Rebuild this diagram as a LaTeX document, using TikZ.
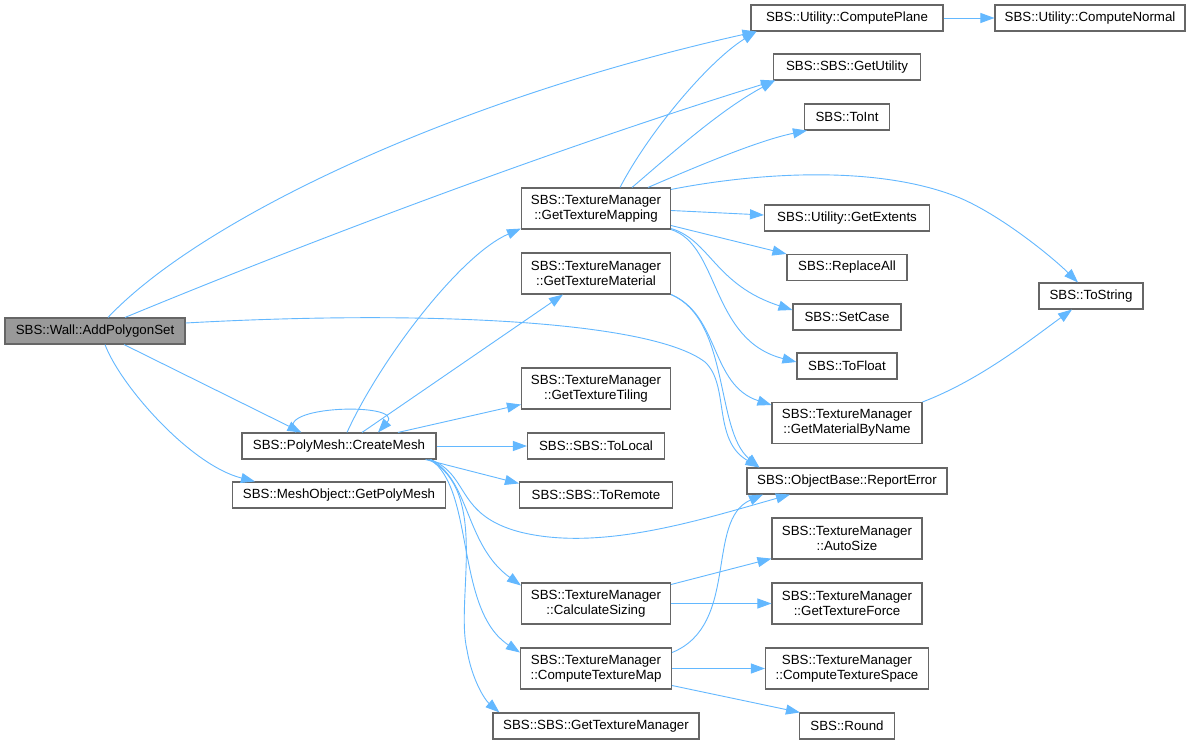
\documentclass[tikz,border=0pt]{standalone}
\usepackage{fontspec}
\setmainfont{Liberation Sans}
\usetikzlibrary{arrows.meta,calc}
\definecolor{edgec}{HTML}{63B8FF}
\definecolor{bordc}{HTML}{666666}
\definecolor{mainfill}{HTML}{999999}
\begin{document}
\begin{tikzpicture}[x=1pt,y=-1pt,
  fnode/.style={draw=bordc, line width=1.1pt, fill=white, inner sep=0pt, align=center,
    font=\fontsize{13.3}{14.7}\selectfont},
  one/.style={minimum height=26pt},
  two/.style={minimum height=41pt},
  cedge/.style={draw=edgec, line width=0.9pt, -{Triangle[length=14pt,width=10pt]}}]
\useasboundingbox[fill=white] (0,0) rectangle (1193,744);
% column 1
\node[fnode,one,fill=mainfill,minimum width=180pt] (wall) at (95,331) {SBS::Wall::AddPolygonSet};
% column 2
\node[fnode,one,minimum width=194pt] (cm) at (339,446) {SBS::PolyMesh::CreateMesh};
\node[fnode,one,minimum width=213pt] (gpm) at (339,495) {SBS::MeshObject::GetPolyMesh};
% column 3
\node[fnode,two,minimum width=149pt] (gtmap) at (596,208.5) {SBS::TextureManager\\::GetTextureMapping};
\node[fnode,two,minimum width=149pt] (gtmat) at (596,273.5) {SBS::TextureManager\\::GetTextureMaterial};
\node[fnode,two,minimum width=149pt] (gtt) at (596,388.5) {SBS::TextureManager\\::GetTextureTiling};
\node[fnode,one,minimum width=137pt] (tol) at (596,446) {SBS::SBS::ToLocal};
\node[fnode,one,minimum width=153pt] (tor) at (596,495) {SBS::SBS::ToRemote};
\node[fnode,two,minimum width=149pt] (calc) at (596,603.5) {SBS::TextureManager\\::CalculateSizing};
\node[fnode,two,minimum width=151pt] (ctm) at (596,668.5) {SBS::TextureManager\\::ComputeTextureMap};
\node[fnode,one,minimum width=206pt] (gtman) at (596,726) {SBS::SBS::GetTextureManager};
% column 4
\node[fnode,one,minimum width=192pt] (cp) at (847,18) {SBS::Utility::ComputePlane};
\node[fnode,one,minimum width=147pt] (gu) at (847,67) {SBS::SBS::GetUtility};
\node[fnode,one,minimum width=85pt] (ti) at (847,117) {SBS::ToInt};
\node[fnode,one,minimum width=165pt] (ge) at (847,218) {SBS::Utility::GetExtents};
\node[fnode,one,minimum width=120pt] (ra) at (847,267.5) {SBS::ReplaceAll};
\node[fnode,one,minimum width=108pt] (sc) at (847,317) {SBS::SetCase};
\node[fnode,one,minimum width=100pt] (tf) at (847,366) {SBS::ToFloat};
\node[fnode,two,minimum width=150pt] (gmbn) at (847,423) {SBS::TextureManager\\::GetMaterialByName};
\node[fnode,one,minimum width=200pt] (re) at (847,481) {SBS::ObjectBase::ReportError};
\node[fnode,two,minimum width=150pt] (as) at (847,538.5) {SBS::TextureManager\\::AutoSize};
\node[fnode,two,minimum width=150pt] (gtf) at (847,603.5) {SBS::TextureManager\\::GetTextureForce};
\node[fnode,two,minimum width=163pt] (cts) at (847,668.5) {SBS::TextureManager\\::ComputeTextureSpace};
\node[fnode,one,minimum width=95pt] (rd) at (847,726) {SBS::Round};
% column 5
\node[fnode,one,minimum width=190pt] (cn) at (1090,18) {SBS::Utility::ComputeNormal};
\node[fnode,one,minimum width=104pt] (ts) at (1091,296) {SBS::ToString};

% edges from Wall
\draw[cedge] ($(wall.north)+(13,0)$) .. controls (200,220) and (450,100) .. ($(cp.south west)+(6,0)$);
\draw[cedge] ($(wall.north)+(30,0)$) .. controls (300,245) and (550,150) .. ($(gu.south west)+(2,0)$);
\draw[cedge] ($(wall.east)+(0,-8)$) .. controls (420,310) and (650,320) .. (705,362)
   .. controls (730,385) and (712,440) .. ($(re.north west)+(13,0)$);
\draw[cedge] ($(wall.south)+(29,0)$) -- ($(cm.north west)+(60,0)$);
\draw[cedge] ($(wall.south)+(10,0)$) .. controls (120,385) and (190,465) .. ($(gpm.north west)+(23,0)$);
% edges from CreateMesh
\draw[cedge] ($(cm.north)+(-43,0)$) .. controls (270,405) and (405,402) .. ($(cm.north)+(39,0)$);
\draw[cedge] ($(cm.north)+(8,0)$) .. controls (380,360) and (460,255) .. ($(gtmap.south west)+(0,-1)$);
\draw[cedge] ($(cm.north)+(23,0)$) -- ($(gtmat.south west)+(42,0)$);
\draw[cedge] ($(cm.north)+(59,0)$) -- ($(gtt.west)+(0,16)$);
\draw[cedge] (cm.east) -- (tol.west);
\draw[cedge] ($(cm.south east)+(-11,0)$) -- ($(tor.north west)+(0,2)$);
\draw[cedge] ($(cm.south east)+(-6,0)$) .. controls (470,475) and (455,515) .. (520,532)
   .. controls (600,552) and (700,520) .. ($(re.south)+(-57,0)$);
\draw[cedge] ($(cm.south east)+(-6,0)$) .. controls (470,480) and (465,545) .. ($(calc.west)+(0,-18)$);
\draw[cedge] ($(cm.south east)+(-6,0)$) .. controls (475,490) and (455,610) .. ($(ctm.west)+(0,-16)$);
\draw[cedge] ($(cm.south east)+(-8,0)$) .. controls (490,490) and (455,600) .. (467,650)
   .. controls (472,680) and (485,700) .. ($(gtman.north west)+(7,0)$);
% edges from GetTextureMapping
\draw[cedge] ($(gtmap.north)+(24,0)$) .. controls (650,130) and (710,60) .. ($(cp.south west)+(6,0)$);
\draw[cedge] ($(gtmap.north)+(36,0)$) .. controls (670,155) and (720,110) .. ($(gu.south west)+(2,0)$);
\draw[cedge] ($(gtmap.north)+(52,0)$) .. controls (700,165) and (760,140) .. ($(ti.south west)+(3,0)$);
\draw[cedge] ($(gtmap.north east)+(0,2)$) .. controls (760,172) and (880,165) .. (960,198)
   .. controls (1000,215) and (1050,255) .. ($(ts.north)+(-13,0)$);
\draw[cedge] ($(gtmap.east)+(0,2)$) -- ($(ge.west)+(0,-3)$);
\draw[cedge] ($(gtmap.east)+(0,17)$) -- (ra.north west);
\draw[cedge] ($(gtmap.south east)+(0,-1)$) .. controls (710,240) and (715,285) .. ($(sc.west)+(0,-7)$);
\draw[cedge] (gtmap.south east) .. controls (720,245) and (710,340) .. ($(tf.west)+(0,-4)$);
% edges from GetTextureMaterial
\draw[cedge] (gtmat.south east) .. controls (720,315) and (710,385) .. ($(gmbn.west)+(0,-18)$);
\draw[cedge] (gtmat.south east) .. controls (730,320) and (715,430) .. ($(re.north west)+(13,0)$);
% others
\draw[cedge] (gmbn.north east) .. controls (980,380) and (1030,340) .. ($(ts.south)+(-19,0)$);
\draw[cedge] ($(calc.east)+(0,-19)$) -- ($(as.south west)+(0,-1)$);
\draw[cedge] (calc.east) -- (gtf.west);
\draw[cedge] ($(ctm.east)+(0,-16)$) .. controls (740,625) and (705,520) .. ($(re.south)+(-84,0)$);
\draw[cedge] (ctm.east) -- (cts.west);
\draw[cedge] ($(ctm.east)+(0,17)$) -- ($(rd.north west)+(1,0)$);
\draw[cedge] (cp.east) -- (cn.west);
\end{tikzpicture}
\end{document}
